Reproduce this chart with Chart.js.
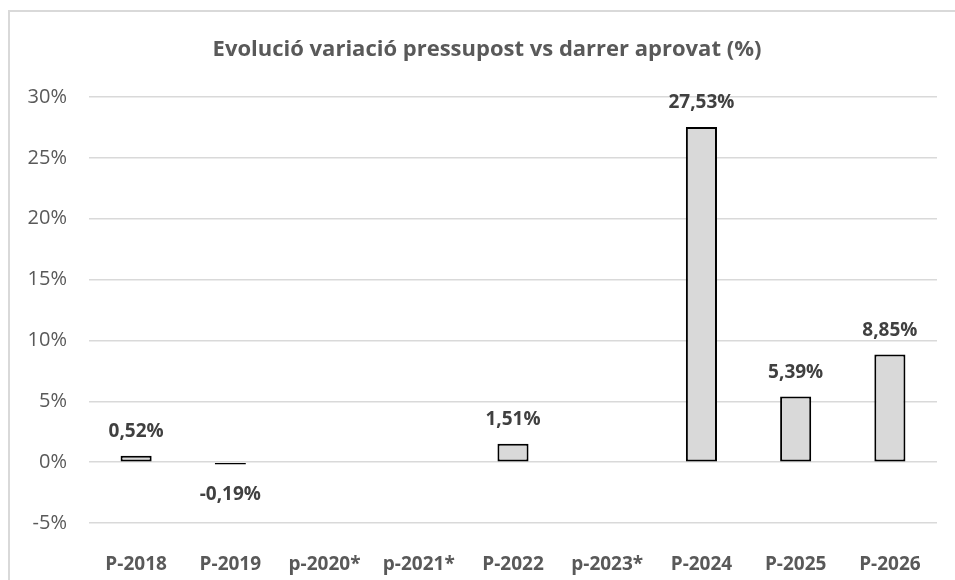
<!DOCTYPE html>
<html>
<head>
<meta charset="utf-8">
<script src="https://cdn.jsdelivr.net/npm/chart.js@4"></script>
<style>
  html, body { margin: 0; padding: 0; background: #fff; }
  #wrap { position: relative; width: 955px; height: 580px; overflow: hidden; }
  #frame { position: absolute; left: 8px; top: 10px; width: 960px; height: 580px;
           border-left: 2px solid #d9d9d9; border-top: 2px solid #d9d9d9; }
  canvas { position: absolute; left: 0; top: 0; }
</style>
</head>
<body>
<div id="wrap">
  <div id="frame"></div>
  <canvas id="chart" width="955" height="580"></canvas>
</div>
<script>
// Chart data
const chartTitle = 'Evolució variació pressupost vs darrer aprovat (%)';
const labels = ['P-2018', 'P-2019', 'p-2020*', 'p-2021*', 'P-2022', 'p-2023*', 'P-2024', 'P-2025', 'P-2026'];
const variation = [0.52, -0.19, null, null, 1.51, null, 27.53, 5.39, 8.85];
const yTicks = [-5, 0, 5, 10, 15, 20, 25, 30];

const FONT = '"Open Sans", "Noto Sans", sans-serif';
const fmtPct = v => v.toFixed(2).replace('.', ',') + '%';

// title centred on the framed area (frame starts at x=8 and runs off the right edge)
const frameTitle = {
  id: 'frameTitle',
  afterDraw(chart) {
    const ctx = chart.ctx;
    ctx.save();
    ctx.font = 'bold 22px ' + FONT;
    ctx.fillStyle = '#595959';
    ctx.textAlign = 'center';
    ctx.textBaseline = 'middle';
    ctx.fillText(chartTitle, 487, 50);
    ctx.restore();
  }
};

// simple value labels above / below each bar
const valueLabels = {
  id: 'valueLabels',
  afterDatasetsDraw(chart) {
    const ctx = chart.ctx;
    const meta = chart.getDatasetMeta(0);
    ctx.save();
    ctx.font = 'bold 19px ' + FONT;
    ctx.fillStyle = '#404040';
    ctx.textAlign = 'center';
    ctx.textBaseline = 'middle';
    meta.data.forEach((bar, i) => {
      const v = variation[i];
      if (v == null) return;
      const y = v >= 0 ? bar.y - 24 : bar.y + 30;
      ctx.fillText(fmtPct(v), bar.x, y);
    });
    ctx.restore();
  }
};

new Chart(document.getElementById('chart').getContext('2d'), {
  type: 'bar',
  data: {
    labels,
    datasets: [{
      data: variation,
      backgroundColor: '#d9d9d9',
      borderColor: '#000',
      borderWidth: 2,
      borderSkipped: false,
      categoryPercentage: 1,
      barPercentage: 0.33,
    }],
  },
  options: {
    responsive: false,
    animation: false,
    layout: { padding: { top: 97, right: 18, bottom: 0, left: 0 } },
    plugins: {
      legend: { display: false },
      tooltip: { enabled: false },
      title: { display: false },
    },
    scales: {
      x: {
        grid: { display: false },
        border: { display: false },
        ticks: { color: '#595959', font: { family: FONT, size: 19, weight: 'bold' }, padding: 22, maxRotation: 0 },
        afterFit: s => { s.height = 57; },
      },
      y: {
        min: -5, max: 30,
        afterBuildTicks: s => { s.ticks = yTicks.map(v => ({ value: v })); },
        grid: { color: '#d9d9d9', lineWidth: 1.5, drawTicks: false },
        border: { display: false },
        ticks: { color: '#595959', font: { family: FONT, size: 20 }, padding: 22, callback: v => v + '%' },
        afterFit: s => { s.width = 89; },
      },
    },
  },
  plugins: [valueLabels, frameTitle],
});
</script>
</body>
</html>
